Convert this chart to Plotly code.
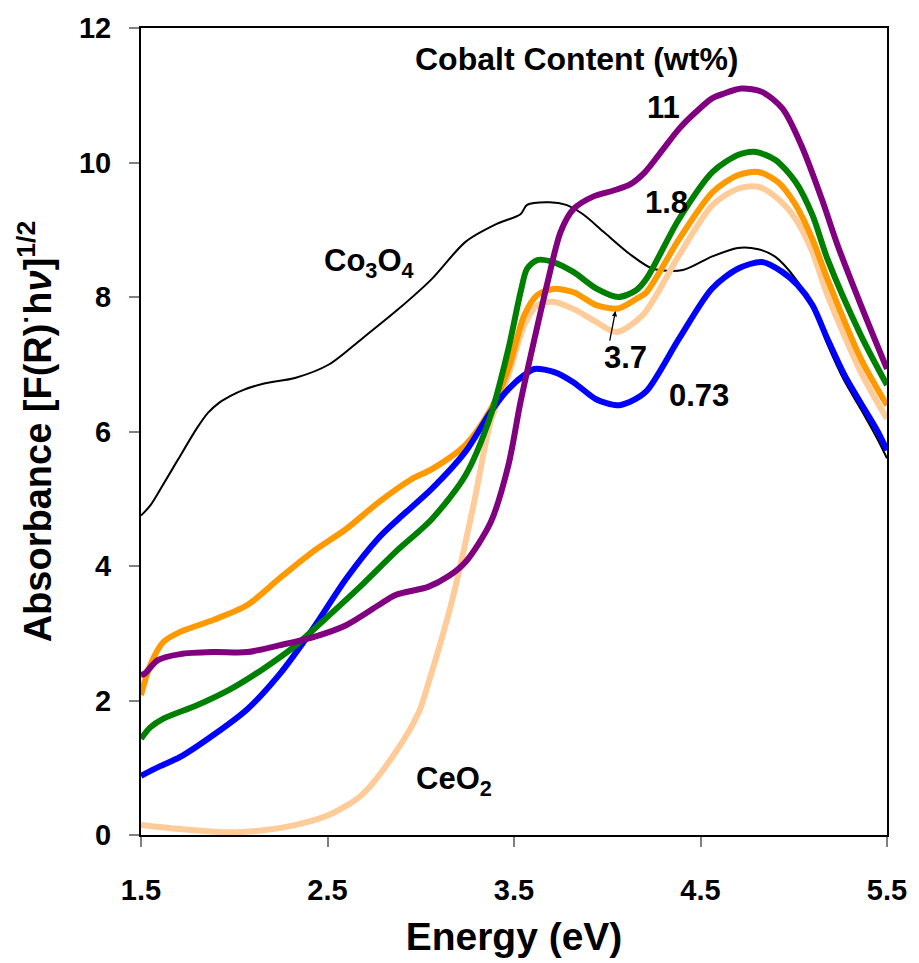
import plotly.graph_objects as go

# Diffuse-reflectance absorbance spectra (Kubelka-Munk, [F(R)·hν]^1/2)
# for CeO2-supported cobalt oxide catalysts and the reference oxides.

energy_co3o4 = [1.50, 1.55, 1.61, 1.70, 1.80, 1.86, 1.92, 1.98, 2.05, 2.155, 2.33, 2.51,
                2.685, 2.88, 3.06, 3.24, 3.41, 3.535, 3.57, 3.69, 3.78, 3.87, 3.98, 4.12,
                4.245, 4.405, 4.56, 4.70, 4.81, 4.90, 5.01, 5.10, 5.18, 5.27, 5.36, 5.45,
                5.50]
abs_co3o4 = [4.75, 4.90, 5.17, 5.59, 6.05, 6.28, 6.43, 6.53, 6.62, 6.71, 6.80, 7.00,
             7.38, 7.82, 8.27, 8.82, 9.09, 9.23, 9.37, 9.41, 9.37, 9.23, 8.97, 8.64,
             8.42, 8.40, 8.60, 8.73, 8.71, 8.60, 8.27, 7.86, 7.30, 6.76, 6.33, 5.88,
             5.60]

energy_073 = [1.50, 1.60, 1.71, 1.89, 2.07, 2.24, 2.42, 2.60, 2.775, 2.88, 3.06, 3.24,
              3.375, 3.47, 3.555, 3.61, 3.72, 3.82, 3.94, 4.05, 4.12, 4.21, 4.385, 4.56,
              4.70, 4.83, 4.94, 5.02, 5.10, 5.18, 5.27, 5.36, 5.45, 5.50]
abs_073 = [0.88, 1.02, 1.16, 1.49, 1.87, 2.38, 3.06, 3.81, 4.42, 4.70, 5.15, 5.70,
           6.29, 6.63, 6.84, 6.93, 6.88, 6.73, 6.48, 6.39, 6.44, 6.60, 7.38, 8.12,
           8.42, 8.52, 8.37, 8.18, 7.88, 7.38, 6.85, 6.42, 6.00, 5.72]

energy_18 = [1.50, 1.55, 1.62, 1.80, 1.98, 2.155, 2.33, 2.51, 2.685, 2.865, 3.06, 3.24,
             3.375, 3.47, 3.535, 3.57, 3.625, 3.71, 3.82, 3.94, 4.06, 4.155, 4.21, 4.385,
             4.565, 4.70, 4.79, 4.90, 5.01, 5.10, 5.18, 5.36, 5.50]
abs_18 = [1.43, 1.60, 1.73, 1.93, 2.17, 2.47, 2.82, 3.27, 3.72, 4.21, 4.70, 5.35,
          6.24, 7.23, 8.07, 8.42, 8.55, 8.52, 8.37, 8.13, 8.00, 8.10, 8.27, 9.16,
          9.86, 10.11, 10.16, 10.04, 9.71, 9.22, 8.57, 7.43, 6.69]

energy_37 = [1.50, 1.55, 1.62, 1.71, 1.89, 2.07, 2.24, 2.42, 2.60, 2.775, 2.95, 3.06,
             3.24, 3.375, 3.47, 3.555, 3.625, 3.71, 3.82, 3.94, 4.06, 4.155, 4.21, 4.385,
             4.565, 4.70, 4.81, 4.915, 5.01, 5.10, 5.18, 5.36, 5.50]
abs_37 = [2.08, 2.53, 2.87, 3.02, 3.20, 3.42, 3.81, 4.21, 4.55, 4.95, 5.29, 5.44,
          5.80, 6.33, 6.93, 7.73, 8.03, 8.12, 8.07, 7.88, 7.83, 7.97, 8.07, 8.86,
          9.56, 9.81, 9.86, 9.71, 9.37, 8.86, 8.27, 7.08, 6.39]

energy_11 = [1.50, 1.52, 1.59, 1.71, 1.89, 2.07, 2.24, 2.42, 2.60, 2.775, 2.865, 3.04,
             3.15, 3.24, 3.375, 3.47, 3.535, 3.61, 3.68, 3.75, 3.82, 3.93, 4.03, 4.12,
             4.20, 4.30, 4.385, 4.475, 4.56, 4.62, 4.72, 4.83, 4.94, 5.04, 5.15, 5.235,
             5.36, 5.50]
abs_11 = [2.38, 2.40, 2.60, 2.69, 2.72, 2.72, 2.82, 2.94, 3.12, 3.42, 3.57, 3.69,
          3.85, 4.06, 4.65, 5.50, 6.44, 7.38, 8.22, 8.97, 9.31, 9.50, 9.58, 9.67,
          9.85, 10.20, 10.50, 10.75, 10.95, 11.02, 11.10, 11.05, 10.80, 10.26, 9.46, 8.77,
          7.88, 6.93]

energy_ceo2 = [1.50, 1.71, 1.98, 2.155, 2.33, 2.51, 2.685, 2.865, 2.99, 3.04, 3.10, 3.16,
               3.22, 3.29, 3.375, 3.47, 3.555, 3.625, 3.71, 3.82, 3.94, 4.05, 4.19, 4.385,
               4.565, 4.70, 4.81, 4.915, 5.01, 5.10, 5.18, 5.36, 5.50]
abs_ceo2 = [0.15, 0.09, 0.04, 0.07, 0.15, 0.30, 0.60, 1.23, 1.83, 2.25, 2.80, 3.40,
            4.10, 5.00, 6.15, 6.84, 7.58, 7.88, 7.93, 7.82, 7.63, 7.48, 7.73, 8.62,
            9.37, 9.61, 9.64, 9.46, 9.16, 8.67, 8.03, 6.88, 6.19]

x_ticks = [1.5, 2.5, 3.5, 4.5, 5.5]
y_ticks = [0, 2, 4, 6, 8, 10, 12]

FONT = "Arial, Liberation Sans, sans-serif"

series = [
    ("Co3O4", energy_co3o4, abs_co3o4, "#000000", 2),
    ("CeO2", energy_ceo2, abs_ceo2, "#FFCC99", 6),
    ("3.7", energy_37, abs_37, "#FF9900", 6),
    ("0.73", energy_073, abs_073, "#0000FF", 6),
    ("1.8", energy_18, abs_18, "#008000", 6),
    ("11", energy_11, abs_11, "#800080", 6),
]

fig = go.Figure()
for name, xs, ys, color, width in series:
    fig.add_trace(go.Scatter(
        x=xs, y=ys, mode="lines", name=name,
        line=dict(color=color, width=width, shape="spline", smoothing=0.8),
        showlegend=False, hoverinfo="skip",
    ))

labels = [
    ("<b>Cobalt Content (wt%)</b>", 3.84, 11.54, 32),
    ("<b>11</b>", 4.30, 10.82, 31),
    ("<b>1.8</b>", 4.32, 9.40, 31),
    ("<b>3.7</b>", 4.10, 7.10, 31),
    ("<b>0.73</b>", 4.49, 6.53, 31),
    ("<b>Co<sub>3</sub>O<sub>4</sub></b>", 2.72, 8.50, 31),
    ("<b>CeO<sub>2</sub></b>", 3.18, 0.80, 31),
]
for text, x, y, size in labels:
    fig.add_annotation(x=x, y=y, xref="x", yref="y", text=text, showarrow=False,
                       font=dict(family=FONT, size=size, color="black"),
                       xanchor="center", yanchor="middle")

# pointer from the "3.7" label to its curve minimum
fig.add_annotation(x=4.044, y=7.79, xref="x", yref="y", ax=-6, ay=31,
                   text="", showarrow=True, arrowhead=2, arrowsize=0.8,
                   arrowwidth=1.3, arrowcolor="black")

fig.update_xaxes(
    range=[1.5, 5.5], tickvals=x_ticks, ticktext=[f"{v:.1f}" for v in x_ticks],
    showline=True, linecolor="black", linewidth=2, mirror=True,
    ticks="outside", ticklen=10, tickcolor="#808080", tickwidth=1.5,
    ticklabelstandoff=18,
    tickfont=dict(family=FONT, size=29, color="black", weight="bold"),
    showgrid=False, zeroline=False,
    title=dict(text="<b>Energy (eV)</b>", font=dict(family=FONT, size=39, color="black"),
               standoff=18),
)
fig.update_yaxes(
    range=[0, 12], tickvals=y_ticks,
    showline=True, linecolor="black", linewidth=2, mirror=True,
    ticks="outside", ticklen=10, tickcolor="#808080", tickwidth=1.5,
    ticklabelstandoff=12,
    tickfont=dict(family=FONT, size=29, color="black", weight="bold"),
    showgrid=False, zeroline=False,
    title=dict(text="<b>Absorbance [F(R)<sup>·</sup>h<i>ν</i>]<sup>1/2</sup></b>",
               font=dict(family=FONT, size=38, color="black"), standoff=16),
)

fig.update_layout(
    width=919, height=963,
    margin=dict(l=141, r=22, t=26, b=128),
    paper_bgcolor="white", plot_bgcolor="white",
    font=dict(family=FONT, color="black"),
)

fig.write_html("out.html")
